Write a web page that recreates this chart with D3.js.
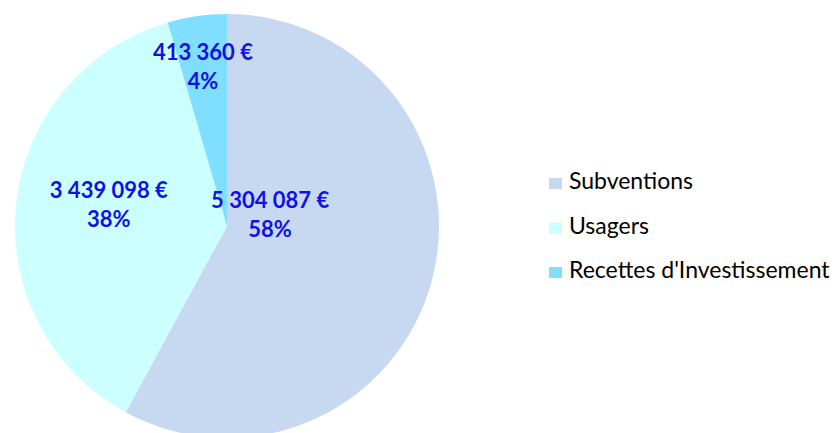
<!DOCTYPE html>
<html>
<head>
<meta charset="utf-8">
<script src="https://cdn.jsdelivr.net/npm/d3@7"></script>
<style>
  body { margin: 0; background: #fff; }
  svg { display: block; }
  .lbl { font-family: Lato, "Open Sans", sans-serif; font-weight: bold; fill: #1010E8; }
  .leg { font-family: Lato, "Open Sans", sans-serif; fill: #000; }
</style>
</head>
<body>
<div id="chart"></div>
<script>
// Chart data
const categories = ["Subventions", "Usagers", "Recettes d'Investissement"];
const amounts = [5304087, 3439098, 413360];
const amountLabels = ["5 304 087 €", "3 439 098 €", "413 360 €"];
const percentLabels = ["58%", "38%", "4%"];
const colors = ["#C6D9F1", "#CCFFFF", "#80DEFF"];

const width = 834, height = 433;
const cx = 227, cy = 226, radius = 212;

// label placement: [distance from centre, angle in degrees clockwise from 12 o'clock]
const labelPlacement = [[44.5, 75.7], [120, 280], [161, 351.4]];

const svg = d3.select("#chart").append("svg")
    .attr("width", width)
    .attr("height", height);

const pie = d3.pie().sort(null).value(d => d);
const arcs = pie(amounts);
const arc = d3.arc().innerRadius(0).outerRadius(radius);

const g = svg.append("g").attr("transform", `translate(${cx},${cy})`);

g.selectAll("path.slice")
    .data(arcs)
    .enter().append("path")
    .attr("class", "slice")
    .attr("d", arc)
    .attr("fill", (d, i) => colors[i]);

// data labels
const labels = g.selectAll("text.lbl")
    .data(arcs)
    .enter().append("text")
    .attr("class", "lbl")
    .attr("text-anchor", "middle")
    .style("font-size", "22px")
    .attr("transform", (d, i) => {
        const [r, a] = labelPlacement[i];
        const rad = a * Math.PI / 180;
        return `translate(${r * Math.sin(rad)},${-r * Math.cos(rad)})`;
    });

labels.append("tspan").attr("x", 0).attr("y", -7).text((d, i) => amountLabels[i]);
labels.append("tspan").attr("x", 0).attr("y", 22).text((d, i) => percentLabels[i]);

// legend
const legY = d3.scalePoint().domain(categories).range([189, 278]);
const legend = svg.append("g").selectAll("g")
    .data(categories)
    .enter().append("g")
    .attr("transform", d => `translate(549,${legY(d)})`);

legend.append("rect")
    .attr("x", 0).attr("y", -11)
    .attr("width", 13).attr("height", 11)
    .attr("fill", (d, i) => colors[i]);

legend.append("text")
    .attr("class", "leg")
    .attr("x", 20).attr("y", 0)
    .style("font-size", "23px")
    .text(d => d);
</script>
</body>
</html>
